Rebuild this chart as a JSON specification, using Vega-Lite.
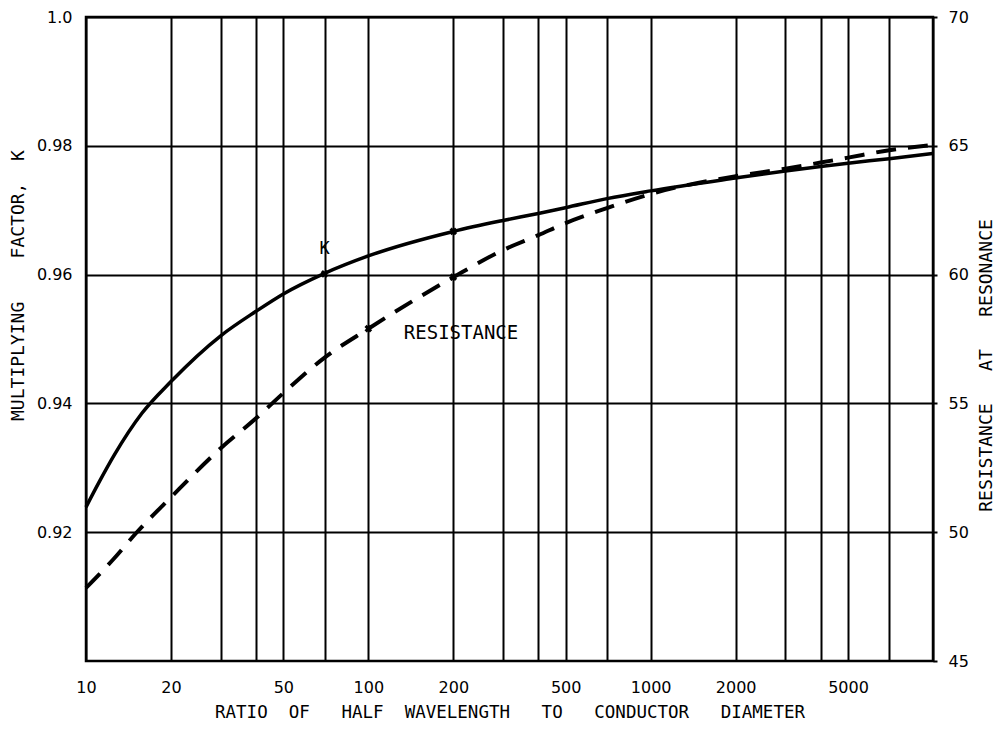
{
  "$schema": "https://vega.github.io/schema/vega-lite/v6.json",
  "width": 847,
  "height": 644,
  "autosize": "none",
  "padding": {"left": 86, "top": 17, "right": 74, "bottom": 68},
  "background": "white",
  "config": {
    "view": {"stroke": "black", "strokeWidth": 2.5},
    "font": "DejaVu Sans",
    "axis": {
      "labelFont": "DejaVu Sans",
      "labelColor": "black",
      "labelFontSize": 16,
      "titleFont": "DejaVu Sans Mono",
      "titleFontWeight": "normal",
      "titleColor": "black",
      "titleFontSize": 18,
      "gridColor": "black",
      "gridOpacity": 1,
      "gridWidth": 2,
      "domain": false,
      "ticks": false,
      "labelOverlap": false,
      "labelBound": false,
      "labelFlush": false
    }
  },
  "datasets": {
    "k": [
      {"ratio": 10, "k": 0.9239},
      {"ratio": 11.2, "k": 0.928},
      {"ratio": 12.6, "k": 0.932},
      {"ratio": 15.8, "k": 0.9385},
      {"ratio": 20, "k": 0.9434},
      {"ratio": 30, "k": 0.9505},
      {"ratio": 40, "k": 0.9543},
      {"ratio": 50, "k": 0.957},
      {"ratio": 70, "k": 0.9602},
      {"ratio": 100, "k": 0.9629},
      {"ratio": 200, "k": 0.9667},
      {"ratio": 300, "k": 0.9684},
      {"ratio": 400, "k": 0.9695},
      {"ratio": 500, "k": 0.9704},
      {"ratio": 700, "k": 0.9718},
      {"ratio": 1000, "k": 0.973},
      {"ratio": 2000, "k": 0.975},
      {"ratio": 3000, "k": 0.9761},
      {"ratio": 4000, "k": 0.9768},
      {"ratio": 5000, "k": 0.9773},
      {"ratio": 7000, "k": 0.978},
      {"ratio": 10000, "k": 0.9788}
    ],
    "r": [
      {"ratio": 10, "r": 47.84},
      {"ratio": 12.5, "r": 48.95},
      {"ratio": 15, "r": 49.95},
      {"ratio": 20, "r": 51.36},
      {"ratio": 30, "r": 53.26},
      {"ratio": 40, "r": 54.42},
      {"ratio": 50, "r": 55.4},
      {"ratio": 70, "r": 56.78},
      {"ratio": 100, "r": 57.9},
      {"ratio": 200, "r": 59.9},
      {"ratio": 300, "r": 60.95},
      {"ratio": 400, "r": 61.53},
      {"ratio": 500, "r": 62.0},
      {"ratio": 700, "r": 62.58},
      {"ratio": 1000, "r": 63.13},
      {"ratio": 2000, "r": 63.82},
      {"ratio": 3000, "r": 64.11},
      {"ratio": 4000, "r": 64.35},
      {"ratio": 5000, "r": 64.54},
      {"ratio": 7000, "r": 64.83},
      {"ratio": 10000, "r": 65.03}
    ],
    "kmarks": [
      {"ratio": 70, "k": 0.9601},
      {"ratio": 200, "k": 0.9667}
    ],
    "rmarks": [
      {"ratio": 100, "r": 57.9},
      {"ratio": 200, "r": 59.9}
    ],
    "klabel": [
      {"ratio": 70, "k": 0.964, "label": "K"}
    ],
    "rlabel": [
      {"ratio": 213, "r": 57.75, "label": "RESISTANCE"}
    ]
  },
  "layer": [
    {
      "layer": [
        {
          "data": {"name": "k"},
          "mark": {"type": "line", "color": "black", "strokeWidth": 3.5, "interpolate": "monotone"},
          "encoding": {
            "x": {
              "field": "ratio",
              "type": "quantitative",
              "scale": {"type": "log", "domain": [10, 10000], "nice": false},
              "axis": {
                "values": [10, 20, 30, 40, 50, 70, 100, 200, 300, 400, 500, 700, 1000, 2000, 3000, 4000, 5000, 7000, 10000],
                "format": "d",
                "labelExpr": "indexof([10, 20, 50, 100, 200, 500, 1000, 2000, 5000], datum.value) >= 0 ? datum.label : ''",
                "grid": true,
                "labelPadding": 18,
                "title": "RATIO\u00a0 OF\u00a0\u00a0 HALF\u00a0 WAVELENGTH\u00a0\u00a0 TO\u00a0\u00a0 CONDUCTOR\u00a0\u00a0 DIAMETER",
                "titleFontSize": 17.5,
                "titlePadding": 8
              }
            },
            "y": {
              "field": "k",
              "type": "quantitative",
              "scale": {"domain": [0.9, 1.0], "nice": false, "zero": false},
              "axis": {
                "values": [0.92, 0.94, 0.96, 0.98, 1.0],
                "labelExpr": "datum.value >= 0.999 ? '1.0' : format(datum.value, '.2f')",
                "grid": true,
                "labelPadding": 14,
                "title": "MULTIPLYING\u00a0\u00a0\u00a0 FACTOR,\u00a0 K",
                "titlePadding": 9,
                "titleY": 268
              }
            }
          }
        },
        {
          "data": {"name": "kmarks"},
          "mark": {"type": "point", "shape": "cross", "angle": 45, "filled": true, "color": "black", "size": 60, "opacity": 1},
          "encoding": {
            "x": {"field": "ratio", "type": "quantitative"},
            "y": {"field": "k", "type": "quantitative"}
          }
        },
        {
          "data": {"name": "klabel"},
          "mark": {"type": "text", "color": "black", "fontSize": 17, "font": "DejaVu Sans Mono", "align": "center", "baseline": "middle"},
          "encoding": {
            "x": {"field": "ratio", "type": "quantitative"},
            "y": {"field": "k", "type": "quantitative"},
            "text": {"field": "label"}
          }
        }
      ]
    },
    {
      "layer": [
        {
          "data": {"name": "r"},
          "mark": {"type": "line", "color": "black", "strokeWidth": 4, "strokeDash": [20, 12], "interpolate": "monotone"},
          "encoding": {
            "x": {"field": "ratio", "type": "quantitative"},
            "y": {
              "field": "r",
              "type": "quantitative",
              "scale": {"domain": [45, 70], "nice": false, "zero": false},
              "axis": {
                "orient": "right",
                "values": [45, 50, 55, 60, 65, 70],
                "grid": false,
                "ticks": true,
                "tickSize": 4,
                "tickColor": "black",
                "tickWidth": 2,
                "labelPadding": 11,
                "title": "RESISTANCE\u00a0\u00a0 AT\u00a0\u00a0 RESONANCE",
                "titleAngle": 270,
                "titleBaseline": "top",
                "titlePadding": 9,
                "titleY": 348
              }
            }
          }
        },
        {
          "data": {"name": "rmarks"},
          "mark": {"type": "point", "shape": "cross", "angle": 45, "filled": true, "color": "black", "size": 60, "opacity": 1},
          "encoding": {
            "x": {"field": "ratio", "type": "quantitative"},
            "y": {"field": "r", "type": "quantitative"}
          }
        },
        {
          "data": {"name": "rlabel"},
          "mark": {"type": "text", "color": "black", "fontSize": 19, "font": "DejaVu Sans Mono", "align": "center", "baseline": "middle"},
          "encoding": {
            "x": {"field": "ratio", "type": "quantitative"},
            "y": {"field": "r", "type": "quantitative"},
            "text": {"field": "label"}
          }
        }
      ]
    }
  ],
  "resolve": {"scale": {"y": "independent"}}
}
